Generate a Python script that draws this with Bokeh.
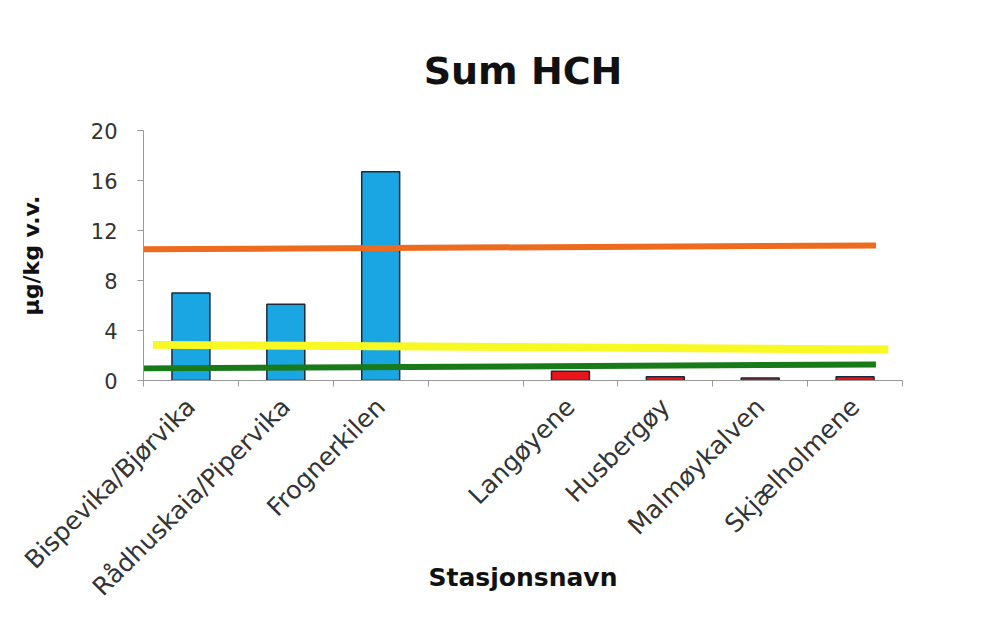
from bokeh.plotting import figure
from bokeh.models import Range1d, FixedTicker, ColumnDataSource
from bokeh.embed import file_html
from bokeh.resources import INLINE

categories = ["Bispevika/Bjørvika", "Rådhuskaia/Pipervika", "Frognerkilen", "",
              "Langøyene", "Husbergøy", "Malmøykalven", "Skjælholmene"]
values = [7.0, 6.1, 16.7, 0.0, 0.75, 0.3, 0.2, 0.3]
bar_colors = ["#19A6E2", "#19A6E2", "#19A6E2", "#19A6E2",
              "#E8161B", "#E8161B", "#E8161B", "#E8161B"]

# threshold lines (x in category units, y in µg/kg)
orange_x = [0.0, 7.72]
orange_y = [10.5, 10.8]
yellow_x = [0.1, 7.85]
yellow_y = [2.85, 2.48]
green_x = [0.0, 7.72]
green_y = [0.97, 1.28]

y_ticks = [0, 4, 8, 12, 16, 20]

FONT = "DejaVu Sans"

p = figure(width=988, height=612, output_backend="svg", toolbar_location=None,
           x_range=Range1d(0, len(categories)), y_range=Range1d(0, 20),
           min_border_left=143, min_border_right=86, min_border_top=130,
           min_border_bottom=232)

p.title.text = "Sum HCH"
p.title.align = "center"
p.title.text_font = FONT
p.title.text_font_size = "38px"
p.title.text_font_style = "bold"
p.title.text_color = "#111111"
p.title.standoff = 76

xs = [i + 0.5 for i in range(len(categories))]
src = ColumnDataSource(dict(x=[x for x, v in zip(xs, values) if v > 0],
                            top=[v for v in values if v > 0],
                            color=[c for c, v in zip(bar_colors, values) if v > 0]))
p.vbar(x="x", top="top", bottom=0, width=0.4, fill_color="color",
       line_color="#1a2a3a", line_width=1.5, source=src)

p.line(orange_x, orange_y, line_color="#EE6A1E", line_width=6)
p.line(yellow_x, yellow_y, line_color="#F8F823", line_width=8)
p.line(green_x, green_y, line_color="#187A18", line_width=6)

p.grid.visible = False
p.outline_line_color = None

xa = p.xaxis[0]
xa.ticker = FixedTicker(ticks=xs, minor_ticks=list(range(len(categories) + 1)))
xa.major_label_overrides = {x: c for x, c in zip(xs, categories)}
xa.major_label_orientation = 0.785398
xa.major_label_standoff = 16
xa.major_tick_out = 0
xa.major_tick_in = 0
xa.minor_tick_out = 6
xa.minor_tick_in = 0
xa.minor_tick_line_color = "#999999"
xa.axis_line_color = "#999999"
xa.major_label_text_font = FONT
xa.major_label_text_font_size = "25px"
xa.major_label_text_color = "#333333"
xa.axis_label = "Stasjonsnavn"
xa.axis_label_text_font = FONT
xa.axis_label_text_font_size = "25px"
xa.axis_label_text_font_style = "bold"
xa.axis_label_text_color = "#111111"
xa.axis_label_standoff = -52

ya = p.yaxis[0]
ya.ticker = FixedTicker(ticks=y_ticks)
ya.minor_tick_line_color = None
ya.major_tick_out = 6
ya.major_tick_in = 0
ya.major_tick_line_color = "#999999"
ya.axis_line_color = "#999999"
ya.major_label_text_font = FONT
ya.major_label_text_font_size = "21px"
ya.major_label_text_color = "#333333"
ya.major_label_standoff = 20
ya.axis_label = "µg/kg v.v."
ya.axis_label_text_font = FONT
ya.axis_label_text_font_size = "22px"
ya.axis_label_text_font_style = "bold"
ya.axis_label_text_color = "#111111"
ya.axis_label_standoff = 44

open("out.html", "w").write(file_html(p, INLINE))
